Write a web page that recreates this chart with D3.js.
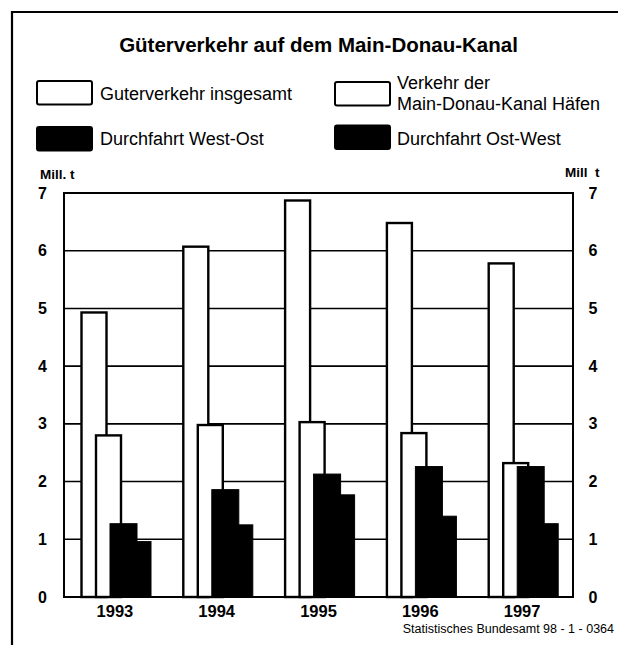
<!DOCTYPE html>
<html>
<head>
<meta charset="utf-8">
<script src="https://cdn.jsdelivr.net/npm/d3@7"></script>
<style>
  html, body { margin: 0; padding: 0; background: #fff; }
  svg { display: block; font-family: "Liberation Sans", Arial, Helvetica, sans-serif; }
</style>
</head>
<body>
<svg id="chart" width="618" height="645"></svg>
<script>
// ---- data ----
const years = ["1993", "1994", "1995", "1996", "1997"];
const totalTraffic = [4.93, 6.07, 6.87, 6.48, 5.78];   // Güterverkehr insgesamt
const portTraffic  = [2.80, 2.98, 3.03, 2.84, 2.32];   // Verkehr der Main-Donau-Kanal Häfen
const westEast     = [1.27, 1.86, 2.13, 2.26, 2.26];   // Durchfahrt West-Ost
const eastWest     = [0.96, 1.25, 1.77, 1.40, 1.27];   // Durchfahrt Ost-West
const yTicks = [0, 1, 2, 3, 4, 5, 6, 7];
const title = "Güterverkehr auf dem Main-Donau-Kanal";
const unitLeft = "Mill. t";
const unitRight = "Mill  t";
const source = "Statistisches Bundesamt 98 - 1 - 0364";

// ---- layout ----
const svg = d3.select("#chart");
const plot = { left: 64, right: 573, top: 193, bottom: 597 };

const x = d3.scaleBand().domain(years).range([plot.left, plot.right]).padding(0);
const y = d3.scaleLinear().domain([0, 7]).range([plot.bottom, plot.top]);

// outer frame (top + left only)
svg.append("line").attr("x1", 12).attr("y1", 12).attr("x2", 618).attr("y2", 12)
  .attr("stroke", "#000").attr("stroke-width", 2.2);
svg.append("line").attr("x1", 12).attr("y1", 11).attr("x2", 12).attr("y2", 645)
  .attr("stroke", "#000").attr("stroke-width", 2.2);

// title
svg.append("text").attr("x", 318.5).attr("y", 52).attr("text-anchor", "middle")
  .attr("font-size", "20.5px").attr("font-weight", "bold").attr("fill", "#000")
  .text(title);

// legend
const legendItems = [
  { label: ["Guterverkehr insgesamt"], fill: "#fff", bx: 37, by: 81, tx: 100, ty: [99.5] },
  { label: ["Verkehr der", "Main-Donau-Kanal Häfen"], fill: "#fff", bx: 335, by: 82, tx: 397, ty: [88.5, 109.5] },
  { label: ["Durchfahrt West-Ost"], fill: "#000", bx: 37, by: 127, tx: 100, ty: [145] },
  { label: ["Durchfahrt Ost-West"], fill: "#000", bx: 335, by: 125.5, tx: 397, ty: [145] }
];
legendItems.forEach(it => {
  svg.append("rect").attr("x", it.bx).attr("y", it.by).attr("width", 55).attr("height", 23.5)
    .attr("rx", 2).attr("fill", it.fill).attr("stroke", "#000").attr("stroke-width", 2);
  it.label.forEach((l, i) => {
    svg.append("text").attr("x", it.tx).attr("y", it.ty[i]).attr("font-size", "18px")
      .attr("fill", "#000").text(l);
  });
});

// unit labels
svg.append("text").attr("x", 40).attr("y", 178.5).attr("font-size", "13.5px")
  .attr("font-weight", "bold").text(unitLeft);
svg.append("text").attr("x", 599.5).attr("y", 177).attr("text-anchor", "end").attr("font-size", "13.5px")
  .attr("font-weight", "bold").style("white-space", "pre").attr("xml:space", "preserve").text(unitRight);

// gridlines
svg.append("g").selectAll("line").data(yTicks.filter(t => t > 0 && t < 7)).join("line")
  .attr("x1", plot.left).attr("x2", plot.right)
  .attr("y1", d => y(d)).attr("y2", d => y(d))
  .attr("stroke", "#000").attr("stroke-width", 1.6);

// bars
const series = [
  { values: totalTraffic, off: 17.5, w: 25, fill: "#fff", sw: 2.4 },
  { values: portTraffic,  off: 32,   w: 25, fill: "#fff", sw: 2.4 },
  { values: eastWest,     off: 60,   w: 27, fill: "#000", sw: 1 },
  { values: westEast,     off: 46,   w: 27, fill: "#000", sw: 1 }
];
series.forEach(s => {
  svg.append("g").selectAll("rect").data(years).join("rect")
    .attr("x", (d) => x(d) + s.off)
    .attr("y", (d, i) => y(s.values[i]))
    .attr("width", s.w)
    .attr("height", (d, i) => y(0) - y(s.values[i]))
    .attr("fill", s.fill).attr("stroke", "#000").attr("stroke-width", s.sw);
});

// plot frame
svg.append("rect").attr("x", plot.left).attr("y", plot.top)
  .attr("width", plot.right - plot.left).attr("height", plot.bottom - plot.top)
  .attr("fill", "none").attr("stroke", "#000").attr("stroke-width", 2);

// axes
const styleAxis = g => {
  g.select(".domain").remove();
  g.selectAll("text").attr("fill", "#000").attr("font-weight", "bold")
    .attr("font-family", "Liberation Sans, Arial, sans-serif");
};
svg.append("g").attr("transform", `translate(${plot.left},0)`)
  .call(d3.axisLeft(y).tickValues(yTicks).tickSize(0).tickPadding(17).tickFormat(d3.format("d")))
  .call(styleAxis)
  .selectAll("text").attr("font-size", "16px");
svg.append("g").attr("transform", `translate(${plot.right},0)`)
  .call(d3.axisRight(y).tickValues(yTicks).tickSize(0).tickPadding(15.5).tickFormat(d3.format("d")))
  .call(styleAxis)
  .selectAll("text").attr("font-size", "16px");
svg.append("g").attr("transform", `translate(0,${plot.bottom})`)
  .call(d3.axisBottom(x).tickSize(0).tickPadding(8.5))
  .call(styleAxis)
  .selectAll("text").attr("font-size", "16.5px");

// source
svg.append("text").attr("x", 614).attr("y", 633).attr("text-anchor", "end")
  .attr("font-size", "12.5px").attr("fill", "#000").text(source);
</script>
</body>
</html>
